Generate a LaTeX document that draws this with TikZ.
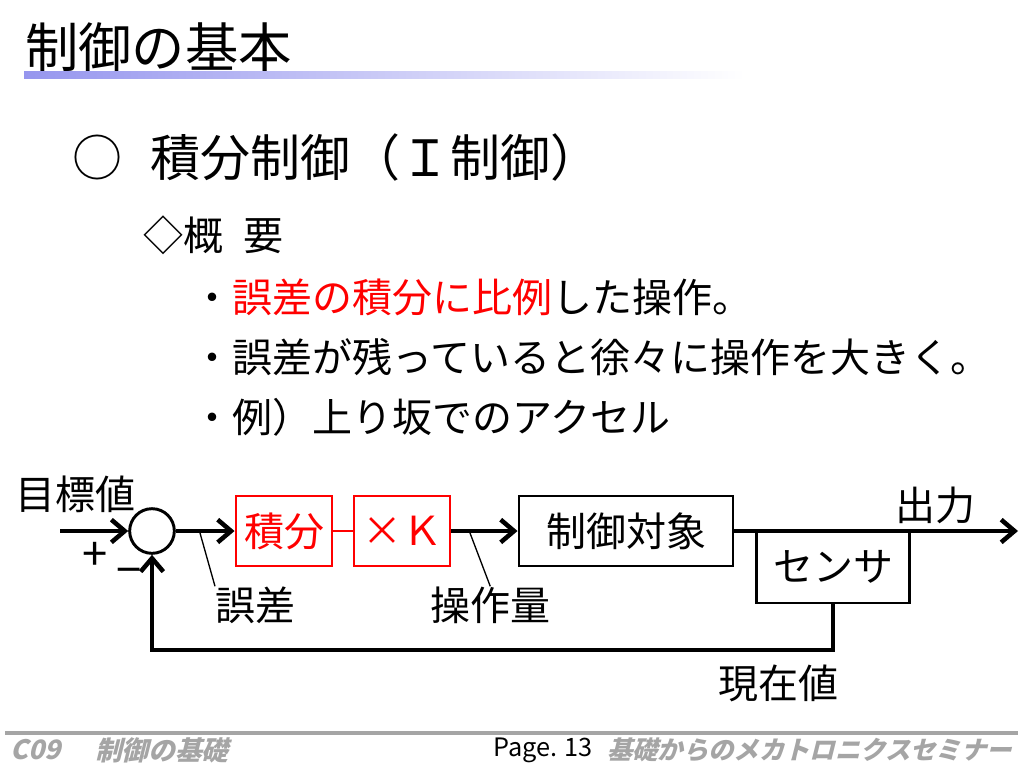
\documentclass[tikz,border=0pt]{standalone}
\usepackage{fontspec}
\usepackage{tikz}
\usetikzlibrary{arrows.meta}
\newfontfamily\jp{Noto Sans CJK JP}
\newfontfamily\jpfoot[FakeSlant=0.25]{Noto Sans CJK JP}
\definecolor{barblue}{RGB}{150,150,238}
\definecolor{footgray}{RGB}{165,165,165}
\newcommand{\fs}[1]{\fontsize{#1}{#1}\selectfont}

\begin{document}
\begin{tikzpicture}[x=0.75pt,y=-0.75pt,
    txt/.style={inner sep=0pt,anchor=west,font=\jp\fs{30pt}},
    blk/.style={draw,line width=2.2pt,inner sep=0pt,minimum height=52.5pt,font=\jp\fs{30pt}},
    redblk/.style={blk,draw=red,text=red},
    flow/.style={line width=3.4pt},
    lead/.style={line width=1pt},
    >={Straight Barb[length=10pt,width=17pt]}]
    \useasboundingbox (0,0) rectangle (1024,768);
    % title
    \node[txt,font=\jp\fs{40pt}] (t0) at (25,47) {制御の基本};
    \shade[left color=barblue,right color=white] (24,71) rectangle (745,78);
    \node[txt,font=\jp\fs{37.5pt}] (h0) at (72,157) {○};
    \node[txt,font=\jp\fs{37.5pt}] (h1) at (150,157) {積分制御（Ｉ制御）};
    \node[txt] (h2) at (143,235) {◇概\hspace{15pt}要};
    \node[txt] (b1) at (192,297) {・\textcolor{red}{誤差の積分に比例}した操作。};
    \node[txt] (b2) at (192,357) {・誤差が残っていると徐々に操作を大きく。};
    \node[txt] (b3) at (192,417) {・例）上り坂でのアクセル};
    % block diagram
    \node[circle,draw,line width=2.2pt,minimum size=33.5pt,inner sep=0pt] (n1) at (152,531) {};
    \node[redblk,minimum width=72pt] (n2) at (284,531) {積分};
    \node[redblk,minimum width=72pt] (n3) at (402,531) {×Ｋ};
    \node[blk,minimum width=160.5pt] (n4) at (626,531) {制御対象};
    \node[blk,minimum width=115pt,minimum height=54pt] (n5) at (833,567) {センサ};
    \node[txt] (l0) at (15,494) {目標値};
    \node[txt] (l1) at (895,505) {出力};
    \node[txt] (l2) at (718,683) {現在値};
    \node[txt] (l3) at (215,605) {誤差};
    \node[txt] (l4) at (430,605) {操作量};
    \node[font=\jp\fs{34pt},inner sep=0pt] (p0) at (95,556) {+};
    \node[font=\jp\fs{34pt},inner sep=0pt] (p1) at (129,577) {−};
    \coordinate (c0) at (60,531);
    \coordinate (c1) at (1018,531);
    \coordinate (c2) at (500,650);
    \coordinate (c3) at (200,533);
    \coordinate (c4) at (470,533);
    \draw[flow,->] (c0) -- (n1);
    \draw[flow,->] (n1) -- (n2);
    \draw[line width=2.2pt,red] (n2) -- (n3);
    \draw[flow,->] (n3) -- (n4);
    \draw[flow,->] (n4) -- (c1);
    \draw[flow,->] (n5.south) |- (c2) -| (n1.south);
    \draw[lead] (c3) -- (l3.north west);
    \draw[lead] (c4) -- (l4.north);
    % footer
    \fill[footgray] (5,731) rectangle (1018,735);
    \node[txt,font=\jpfoot\bfseries\fs{20pt},text=footgray] (f0) at (10,750) {C09};
    \node[txt,font=\jpfoot\bfseries\fs{20pt},text=footgray] (f1) at (95,750) {制御の基礎};
    \node[txt,font=\jp\fs{19pt}] (f2) at (493,750) {Page. 13};
    \node[txt,font=\jpfoot\bfseries\fs{19pt},text=footgray] (f3) at (607,750) {基礎からのメカトロニクスセミナー};
\end{tikzpicture}
\end{document}
